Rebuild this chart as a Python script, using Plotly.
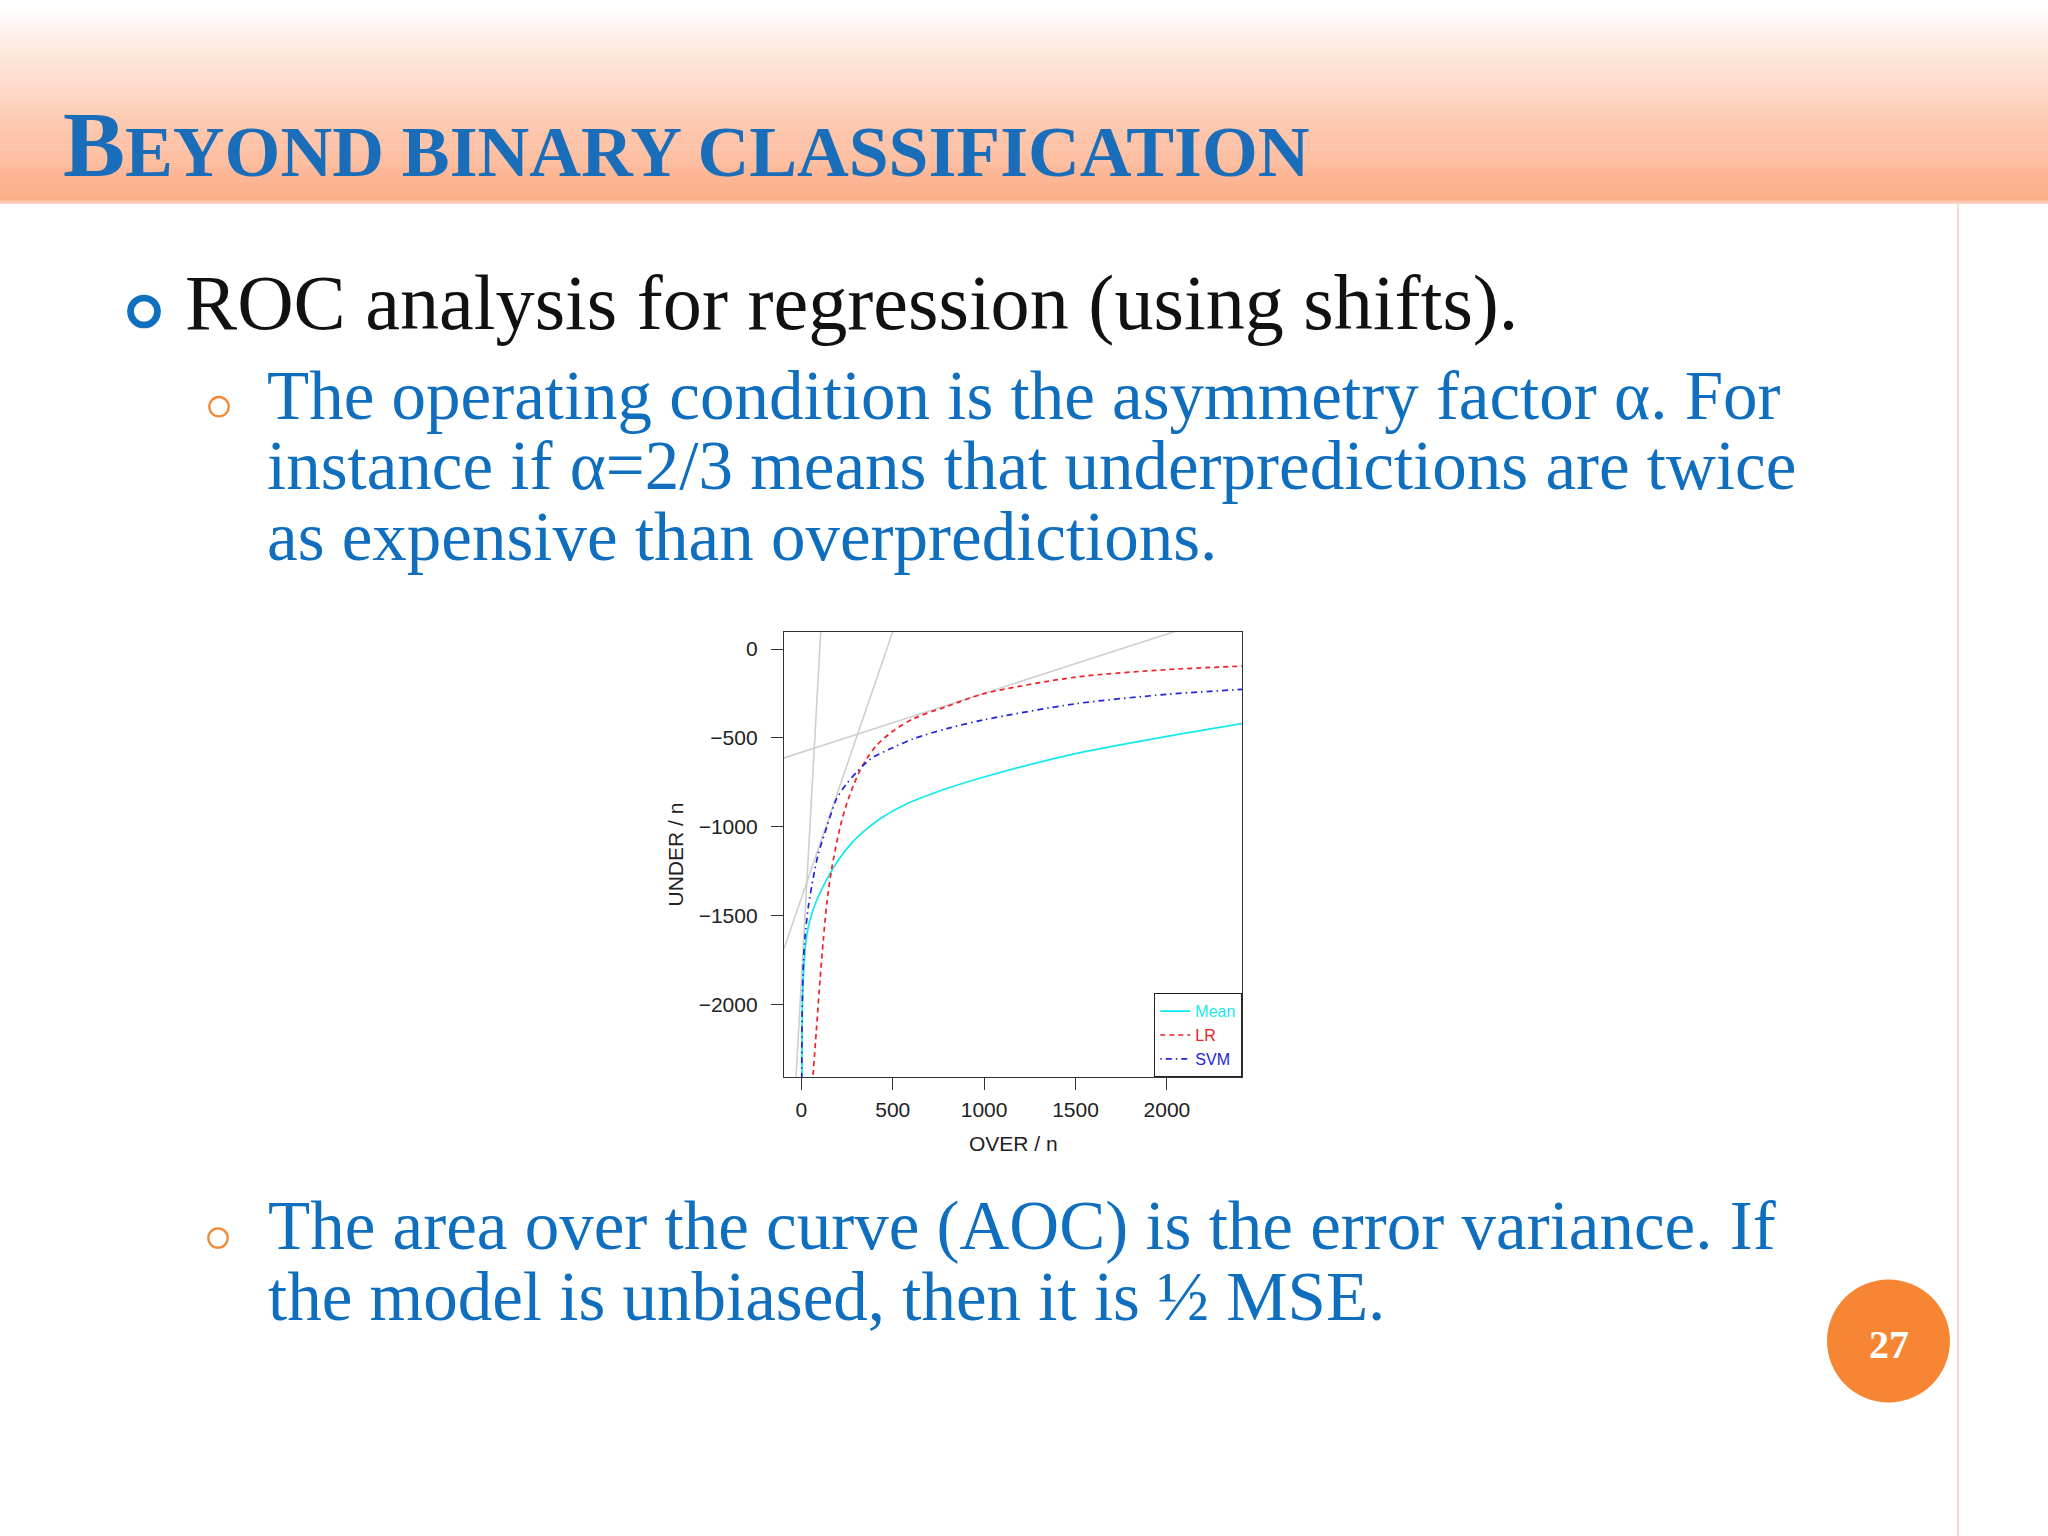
import plotly.graph_objects as go

# ---------------- data ----------------
series_names = ["Mean", "LR", "SVM"]

mean_over = [3, 4, 7, 15, 25, 38, 60, 90, 130, 175, 248, 321, 431, 577, 796, 1000, 1500, 2000, 2411]
mean_under = [-2450, -2146, -1959, -1771, -1650, -1565, -1480, -1400, -1315, -1232, -1125, -1045, -955, -871, -785, -720, -589, -492, -420]

lr_over = [60, 82, 102, 120, 139, 166, 212, 248, 285, 321, 358, 412, 500, 613, 796, 1000, 1500, 2000, 2411]
lr_under = [-2450, -2146, -1865, -1640, -1433, -1236, -1002, -871, -767, -683, -617, -542, -463, -392, -323, -251, -158, -116, -96]

svm_over = [2, 4, 11, 20, 38, 66, 93, 139, 193, 248, 303, 358, 394, 500, 613, 796, 1000, 1500, 2000, 2411]
svm_under = [-2450, -2053, -1771, -1621, -1452, -1283, -1152, -1002, -842, -758, -692, -636, -608, -555, -505, -448, -398, -308, -255, -227]

# grey iso-cost lines (slope, intercept)
iso_slope = [18.55, 3.0, 0.3326]
iso_intercept = [-1867, -1402, -581]

x_ticks = [0, 500, 1000, 1500, 2000]
y_ticks = [0, -500, -1000, -1500, -2000]
x_range = [-95, 2411]
y_range = [-2409, 96]

# ---------------- page geometry ----------------
W, H = 2048, 1536
ML, MR, MT, MB = 784, 806, 632, 459
PL, PR = ML, W - MR
PT, PB = MT, H - MB


def fx(px):
    return (px - PL) / (PR - PL)


def fy(py):
    return (PB - py) / (PB - PT)


BLUE = "#0F6EBE"
SERIF = "Liberation Serif"
SANS = "Liberation Sans"

fig = go.Figure()

# grey lines
for s, b in zip(iso_slope, iso_intercept):
    xs = [x_range[0], x_range[1]]
    fig.add_trace(go.Scatter(x=xs, y=[b + s * v for v in xs], mode="lines",
                             line=dict(color="#CFCFCF", width=1.6),
                             showlegend=False, hoverinfo="skip"))

series = [
    (mean_over, mean_under, "#12E8EE", "solid", "#1EE6EE"),
    (lr_over, lr_under, "#EE2028", "5px,4px", "#E8202A"),
    (svm_over, svm_under, "#2222DD", "1.5px,4px,6px,4px", "#2323D8"),
]
for name, (xs, ys, col, dash, tcol) in zip(series_names, series):
    fig.add_trace(go.Scatter(
        x=xs, y=ys, mode="lines",
        line=dict(color=col, width=1.7, dash=dash, shape="spline", smoothing=0.8),
        name='<span style="color:%s">%s</span>' % (tcol, name)))

shapes = []
# header gradient
N = 100
top, bot = 0.0, 203.0
end_col = (252, 172, 134)
for i in range(N):
    y0 = top + (bot - top) * i / N
    y1 = top + (bot - top) * (i + 1) / N + 0.4
    t = max(0.0, ((y0 + y1) / 2 - 10) / (bot - 10))
    t = t ** 0.85
    c = tuple(int(round(255 + (e - 255) * t)) for e in end_col)
    shapes.append(dict(type="rect", xref="paper", yref="paper", layer="below",
                       x0=fx(0), x1=fx(W), y0=fy(y1), y1=fy(y0),
                       fillcolor="rgb(%d,%d,%d)" % c, line=dict(width=0)))
shapes.append(dict(type="rect", xref="paper", yref="paper", layer="below",
                   x0=fx(0), x1=fx(W), y0=fy(203), y1=fy(200.5),
                   fillcolor="#FEC8B4", line=dict(width=0)))
# right vertical rule
shapes.append(dict(type="line", xref="paper", yref="paper", layer="below",
                   x0=fx(1958), x1=fx(1958), y0=fy(203), y1=fy(H),
                   line=dict(color="#FAD8CF", width=2)))


def ring(cx, cy, r, color, width):
    return dict(type="circle", xref="paper", yref="paper",
                x0=fx(cx - r), x1=fx(cx + r), y0=fy(cy + r), y1=fy(cy - r),
                line=dict(color=color, width=width), fillcolor="rgba(0,0,0,0)")


shapes.append(ring(144, 311.5, 13.5, "#0F70C0", 6.7))
shapes.append(ring(219, 406.7, 9.7, "#F08A3A", 2.3))
shapes.append(ring(218, 1238, 9.7, "#F08A3A", 2.3))
# page number disc
shapes.append(dict(type="circle", xref="paper", yref="paper",
                   x0=fx(1888.5 - 61.5), x1=fx(1888.5 + 61.5),
                   y0=fy(1341 + 61.5), y1=fy(1341 - 61.5),
                   fillcolor="#F68634", line=dict(width=0)))

ann = []


def text(px, py_mid, s, size, color, family=SERIF, anchor="left", angle=0):
    ann.append(dict(x=fx(px), y=fy(py_mid), xref="paper", yref="paper",
                    text=s, showarrow=False, xanchor=anchor, yanchor="middle",
                    textangle=angle,
                    font=dict(family=family, size=size, color=color)))


# title (small caps)
text(61, 175 - 31,
     '<b><span style="font-size:93px">B</span>EYOND BINARY CLASSIFICATION</b>',
     71.7, "#1A6DB8")
# main bullet
text(183, 329 - 0.3375 * 78, "ROC analysis for regression (using shifts).", 78.2, "#111111")
# sub bullet 1
sub = ["The operating condition is the asymmetry factor α. For",
       "instance if α=2/3 means that underpredictions are twice",
       "as expensive than overpredictions."]
for i, s in enumerate(sub):
    text(265, 419 + 70.5 * i - 0.3375 * 69, s, 69, BLUE)
sub2 = ["The area over the curve (AOC) is the error variance. If",
        "the model is unbiased, then it is ½ MSE."]
for i, s in enumerate(sub2):
    text(266, 1249 + 71.5 * i - 0.3375 * 69, s, 69, BLUE)
# page number
text(1888.5, 1344, "<b>27</b>", 40, "white", anchor="center")
# axis titles
text((PL + PR) / 2, 1143, "OVER / n", 21, "#222222", family=SANS, anchor="center")
text(675, (PT + PB) / 2, "UNDER / n", 21, "#222222", family=SANS, anchor="center", angle=-90)

axis_common = dict(showgrid=False, zeroline=False, showline=True, mirror=True,
                   linecolor="#333333", linewidth=1.3, ticks="outside", ticklen=12,
                   tickwidth=1.3, tickcolor="#333333",
                   tickfont=dict(family=SANS, size=21, color="#222222"))

fig.update_layout(
    width=W, height=H, autosize=False,
    margin=dict(l=ML, r=MR, t=MT, b=MB, pad=0),
    paper_bgcolor="white", plot_bgcolor="white",
    xaxis=dict(range=x_range, tickvals=x_ticks, ticklabelstandoff=2, **axis_common),
    yaxis=dict(range=y_range, tickvals=y_ticks, ticklabelstandoff=9, **axis_common),
    shapes=shapes, annotations=ann,
    legend=dict(x=1, y=0, xanchor="right", yanchor="bottom", bgcolor="white",
                bordercolor="#222222", borderwidth=1.3, itemwidth=30,
                font=dict(family=SANS, size=16), tracegroupgap=0),
    showlegend=True,
)

fig.write_html("out.html", config={"displayModeBar": False},
               post_script="document.body.style.margin='0';document.body.style.overflow='hidden';")
